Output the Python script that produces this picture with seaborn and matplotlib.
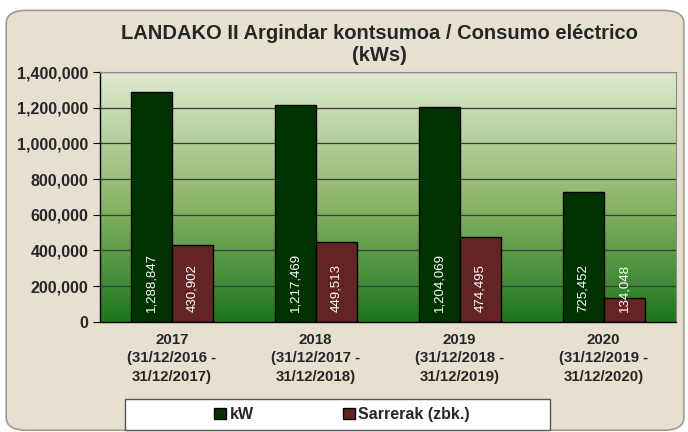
import numpy as np
import pandas as pd
import matplotlib.pyplot as plt
import seaborn as sns
from matplotlib.colors import LinearSegmentedColormap
from matplotlib.patches import FancyBboxPatch, Patch, Rectangle
from matplotlib.ticker import FuncFormatter

# Data
years = ["2017", "2018", "2019", "2020"]
periods = ["(31/12/2016 -\n31/12/2017)", "(31/12/2017 -\n31/12/2018)",
           "(31/12/2018 -\n31/12/2019)", "(31/12/2019 -\n31/12/2020)"]
kw = [1288847, 1217469, 1204069, 725452]
sarrerak = [430902, 449513, 474495, 134048]
series = ["kW", "Sarrerak (zbk.)"]
colors = ["#003300", "#632523"]

categories = [f"{y}\n{p}" for y, p in zip(years, periods)]
df = pd.DataFrame({
    "Category": categories * 2,
    "Serie": [series[0]] * 4 + [series[1]] * 4,
    "Value": kw + sarrerak,
})

sns.set_style("white")
plt.rcParams["font.family"] = ["Liberation Sans", "DejaVu Sans"]

fig = plt.figure(figsize=(6.88, 4.32), dpi=100)
fig.patch.set_facecolor("white")
bg = FancyBboxPatch((0.009, 0.004), 0.985, 0.972, boxstyle="round,pad=0,rounding_size=0.03",
                    transform=fig.transFigure, facecolor="#e7e0d1", edgecolor="#a09a90",
                    linewidth=1.2, zorder=-10)
fig.patches.append(bg)

ax = fig.add_axes([0.145, 0.255, 0.837, 0.578])

# gradient plot background
cmap = LinearSegmentedColormap.from_list("g", ["#1c761c", "#8fb86c", "#dfead0"])
grad = np.linspace(0, 1, 256).reshape(-1, 1)
ax.imshow(grad, aspect="auto", cmap=cmap, origin="lower",
          extent=[0, 1, 0, 1], transform=ax.transAxes, zorder=-5)

sns.barplot(data=df, x="Category", y="Value", hue="Serie", palette=colors,
            width=0.57, edgecolor="black", linewidth=1, ax=ax, legend=False,
            saturation=1)

ax.set_ylim(0, 1400000)
ax.set_xlim(-0.5, 3.5)
ax.set_yticks(np.arange(0, 1400001, 200000))
ax.yaxis.set_major_formatter(FuncFormatter(lambda v, p: f"{int(v):,}"))
ax.grid(axis="y", color="#3a3a3a", linewidth=0.9)
ax.set_axisbelow(True)
ax.set_xlabel("")
ax.set_ylabel("")

for lbl in ax.get_yticklabels():
    lbl.set_fontweight("bold")
    lbl.set_fontsize(11.5)
ax.tick_params(axis="x", which="major", length=0, labelsize=10.8, pad=8)
for lbl in ax.get_xticklabels():
    lbl.set_fontweight("bold")
    lbl.set_linespacing(1.4)
ax.set_xticks([-0.5, 0.5, 1.5, 2.5, 3.5], minor=True)
ax.tick_params(axis="x", which="minor", length=5, color="black", direction="out")
ax.tick_params(axis="y", length=5, color="black", direction="out", left=True, pad=3)

for side in ["top", "right"]:
    ax.spines[side].set_color("#8a8a8a")
for side in ["left", "bottom"]:
    ax.spines[side].set_color("black")
    ax.spines[side].set_linewidth(1)

# value labels, rotated inside the bars
for cont in ax.containers:
    for bar in cont:
        h = bar.get_height()
        ax.annotate(f"{int(h):,}", (bar.get_x() + bar.get_width() / 2, 0),
                    xytext=(0, 7), textcoords="offset points", rotation=90,
                    ha="center", va="bottom", color="white", fontsize=9.5)

fig.text(0.551, 0.898, "LANDAKO II Argindar kontsumoa / Consumo eléctrico\n(kWs)",
         ha="center", va="center", fontsize=14.5, fontweight="bold", linespacing=1.2)

# legend box
fig.patches.append(Rectangle((125 / 688, 0.004), 425 / 688, 31 / 432,
                             transform=fig.transFigure, facecolor="white",
                             edgecolor="#555555", linewidth=1, zorder=5))
handles = [Patch(facecolor=c, edgecolor="black", label=s) for c, s in zip(colors, series)]
leg = fig.legend(handles=handles, loc="center", bbox_to_anchor=(342 / 688, 0.04),
                 ncol=2, frameon=False, columnspacing=5.6,
                 handlelength=0.75, handleheight=0.75, handletextpad=0.2,
                 prop={"weight": "bold", "size": 11.5})
leg.set_zorder(6)

fig.savefig("out.png", dpi=100)
